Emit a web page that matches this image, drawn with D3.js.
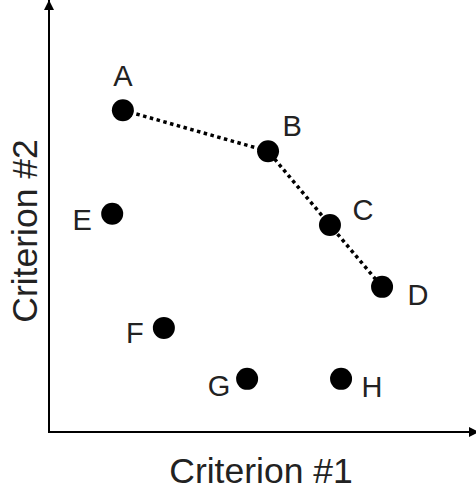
<!DOCTYPE html>
<html>
<head>
<meta charset="utf-8">
<script src="https://cdn.jsdelivr.net/npm/d3@7"></script>
<style>
  html, body { margin: 0; padding: 0; background: #fff; }
  svg { display: block; }
</style>
</head>
<body>
<script>
// ---- data ----
const names = ["A", "B", "C", "D", "E", "F", "G", "H"];
const criterion1 = [17.3, 51.3, 65.8, 78.0, 14.8, 26.9, 46.4, 68.4];
const criterion2 = [74.5, 65.0, 47.9, 33.6, 50.5, 24.1, 12.3, 12.3];
const frontier = ["A", "B", "C", "D"];
const xTitle = "Criterion #1";
const yTitle = "Criterion #2";

// ---- layout ----
const W = 476, H = 496;
const x0 = 49, y0 = 432;
const x = d3.scaleLinear().domain([0, 100]).range([x0, 476]);
const y = d3.scaleLinear().domain([0, 100]).range([y0, 0]);

const svg = d3.select("body").append("svg").attr("width", W).attr("height", H);

const defs = svg.append("defs");
defs.append("marker")
  .attr("id", "arrow")
  .attr("viewBox", "0 0 10 10")
  .attr("refX", 10).attr("refY", 5)
  .attr("markerWidth", 10).attr("markerHeight", 10)
  .attr("markerUnits", "userSpaceOnUse")
  .attr("orient", "auto")
  .append("path").attr("d", "M0,0 L10,5 L0,10 Z").attr("fill", "#000");

// axes (arrows)
svg.append("line")
  .attr("x1", x(0)).attr("y1", y(0)).attr("x2", x(0)).attr("y2", 0)
  .attr("stroke", "#000").attr("stroke-width", 2)
  .attr("marker-end", "url(#arrow)");
svg.append("line")
  .attr("x1", x(0) - 1).attr("y1", y(0)).attr("x2", W + 3).attr("y2", y(0))
  .attr("stroke", "#000").attr("stroke-width", 2)
  .attr("marker-end", "url(#arrow)");

const pts = names.map((n, i) => ({ name: n, c1: criterion1[i], c2: criterion2[i] }));
const byName = Object.fromEntries(pts.map(p => [p.name, p]));

// dotted frontier
const line = d3.line().x(d => x(d.c1)).y(d => y(d.c2));
svg.append("path")
  .datum(frontier.map(n => byName[n]))
  .attr("d", line)
  .attr("fill", "none")
  .attr("stroke", "#000")
  .attr("stroke-width", 3.5)
  .attr("stroke-dasharray", "3.5,3.5");

// points
svg.selectAll("circle.pt").data(pts).enter().append("circle")
  .attr("class", "pt")
  .attr("cx", d => x(d.c1)).attr("cy", d => y(d.c2))
  .attr("r", 11).attr("fill", "#000");

// labels
const labelOffset = {
  A: [0, -24], B: [24, -15], C: [33, -5], D: [36, 18],
  E: [-30, 16], F: [-29, 15], G: [-28, 17], H: [31, 18]
};
svg.selectAll("text.lbl").data(pts).enter().append("text")
  .attr("class", "lbl")
  .attr("x", d => x(d.c1) + labelOffset[d.name][0])
  .attr("y", d => y(d.c2) + labelOffset[d.name][1])
  .attr("text-anchor", "middle")
  .attr("font-family", "Liberation Sans, Arial, sans-serif")
  .attr("font-size", 29)
  .attr("fill", "#222")
  .text(d => d.name);

// axis titles
svg.append("text")
  .attr("x", 261).attr("y", 483)
  .attr("text-anchor", "middle")
  .attr("font-family", "Liberation Sans, Arial, sans-serif")
  .attr("font-size", 35.5)
  .attr("fill", "#222")
  .text(xTitle);
svg.append("text")
  .attr("transform", "translate(37,231) rotate(-90)")
  .attr("text-anchor", "middle")
  .attr("font-family", "Liberation Sans, Arial, sans-serif")
  .attr("font-size", 35.5)
  .attr("fill", "#222")
  .text(yTitle);
</script>
</body>
</html>
